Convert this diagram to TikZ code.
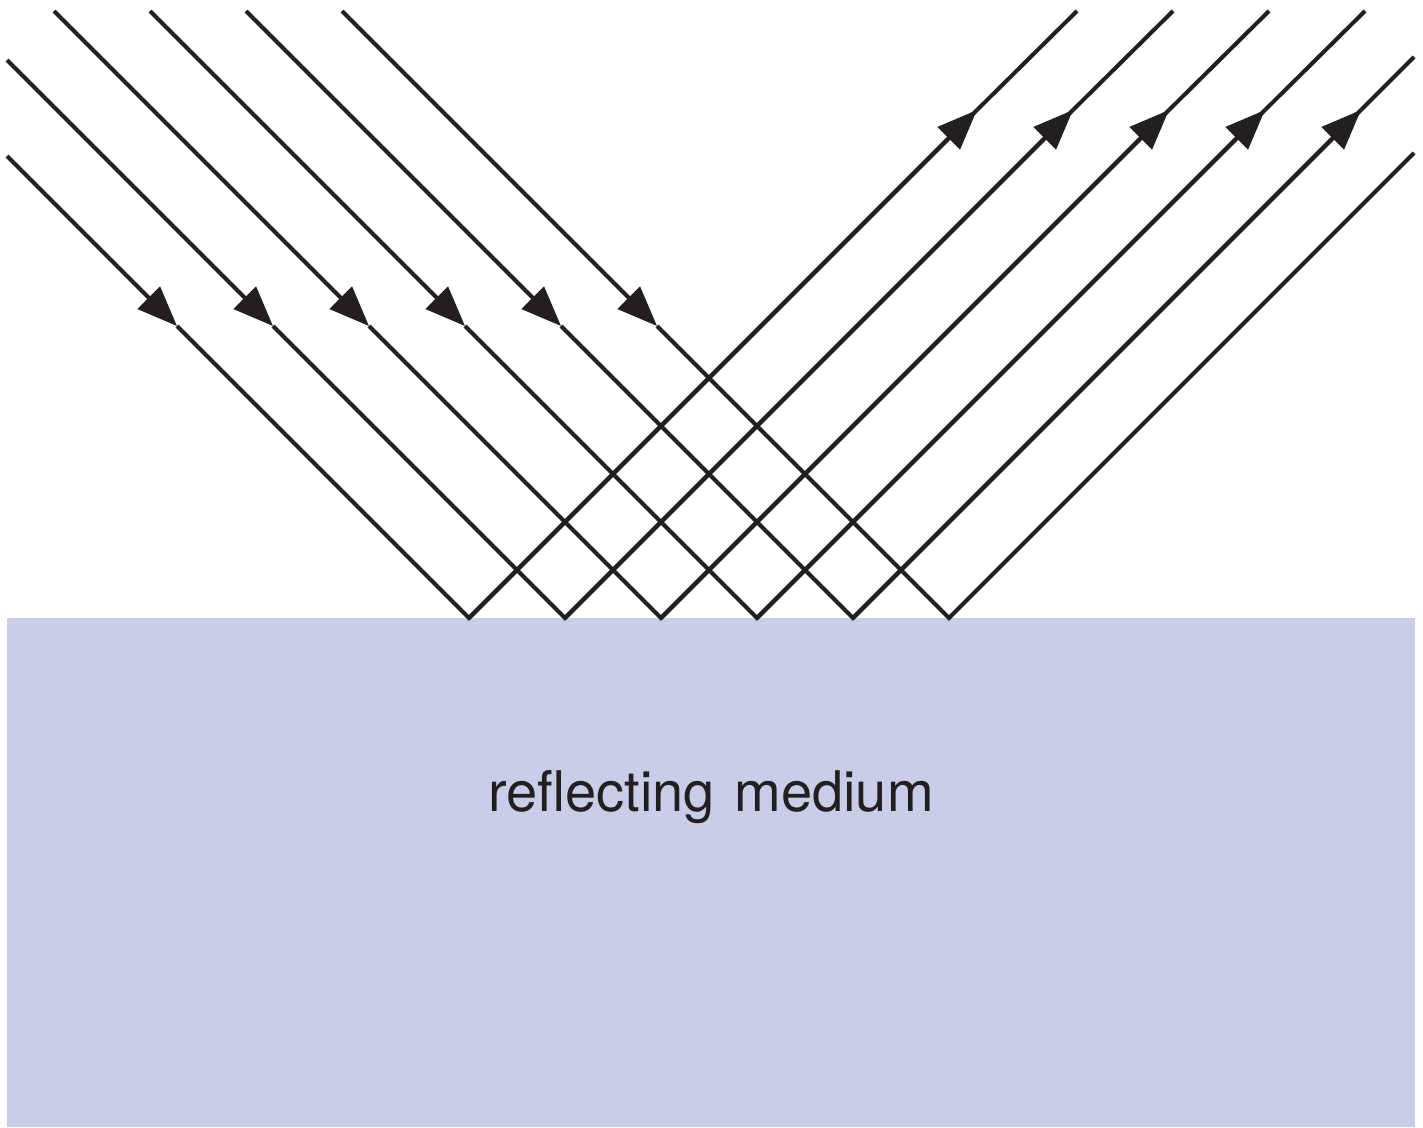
\documentclass[tikz,border=0pt]{standalone}
\usepackage{fontspec}
\setmainfont{TeX Gyre Heros}
\usetikzlibrary{arrows.meta}
\definecolor{inkc}{RGB}{35,31,32}
\definecolor{mediumc}{RGB}{201,206,232}
\tikzset{
  ray/.style={draw=inkc, line width=4pt, line join=miter},
  arrowed/.style={ray, -{Triangle[length=40pt,width=31pt]}},
  label/.style={text=inkc, font=\fontsize{56}{62}\selectfont, inner sep=0pt, anchor=base}
}
\begin{document}
\begin{tikzpicture}[x=1pt,y=-1pt]
\useasboundingbox (0,0) rectangle (1423,1127);
\fill[mediumc] (7,618) rectangle (1415,1127);
\node[label] (lbl) at (711,811) {reflecting\hspace{0.35em}medium};
% incoming starts
\coordinate (S0) at (7,156);
\coordinate (S1) at (7,60);
\coordinate (S2) at (54,11);
\coordinate (S3) at (150,11);
\coordinate (S4) at (246,11);
\coordinate (S5) at (342,11);
% outgoing ends
\coordinate (E0) at (1077,11);
\coordinate (E1) at (1173,11);
\coordinate (E2) at (1269,11);
\coordinate (E3) at (1365,11);
\coordinate (E4) at (1414,57);
\coordinate (E5) at (1414,153);
\foreach \i in {0,...,5}{
  \pgfmathsetmacro{\rx}{469+96*\i}
  \coordinate (R\i) at (\rx,618);
  \coordinate (T\i) at (\rx-292,326);
  \coordinate (U\i) at (\rx+508,110);
}
\foreach \i in {0,...,4}{
  \draw[arrowed] (S\i) -- (T\i);
  \draw[ray] (T\i) -- (R\i) -- (U\i);
  \draw[arrowed] (R\i) -- (U\i);
  \draw[ray] (U\i) -- (E\i);
}
\draw[arrowed] (S5) -- (T5);
\draw[ray] (T5) -- (R5) -- (E5);
\end{tikzpicture}
\end{document}
